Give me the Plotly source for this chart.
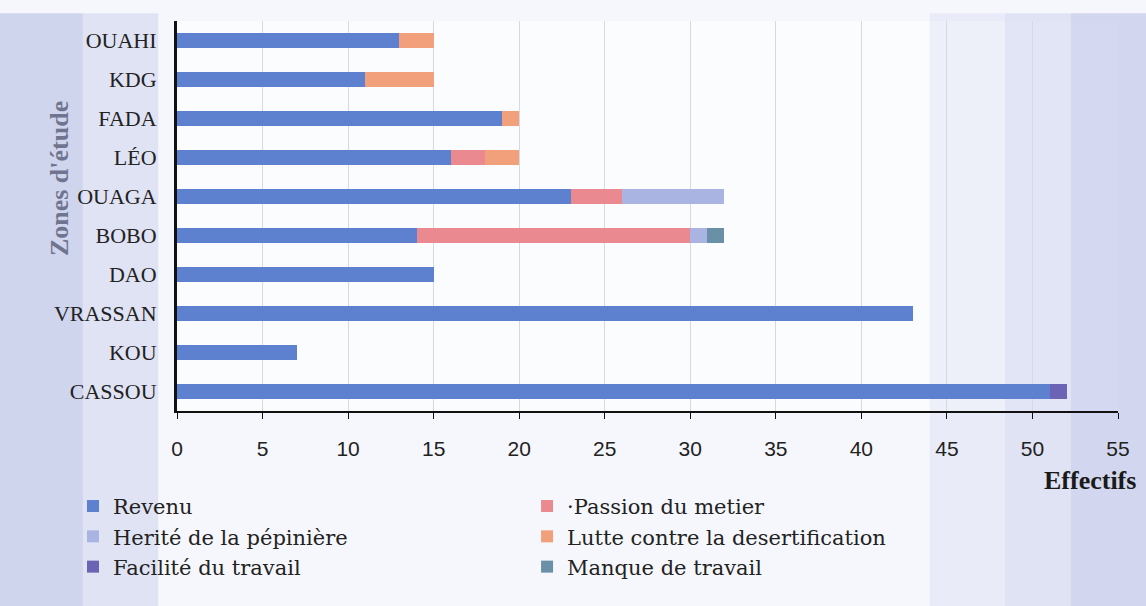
import plotly.graph_objects as go

# Zones d'étude, top to bottom as shown
zones = ["OUAHI", "KDG", "FADA", "LÉO", "OUAGA", "BOBO", "DAO", "VRASSAN", "KOU", "CASSOU"]

revenu = [13, 11, 19, 16, 23, 14, 15, 43, 7, 51]
passion = [0, 0, 0, 2, 3, 16, 0, 0, 0, 0]
herite = [0, 0, 0, 0, 6, 1, 0, 0, 0, 0]
lutte = [2, 4, 1, 2, 0, 0, 0, 0, 0, 0]
facilite = [0, 0, 0, 0, 0, 0, 0, 0, 0, 1]
manque = [0, 0, 0, 0, 0, 1, 0, 0, 0, 0]

x_ticks = list(range(0, 60, 5))

series = [
    ("Revenu", revenu, "#5d80cf", "legend"),
    ("·Passion du metier", passion, "#ea8a90", "legend2"),
    ("Herité de la pépinière", herite, "#aab4e2", "legend"),
    ("Lutte contre la desertification", lutte, "#f2a07c", "legend2"),
    ("Facilité du travail", facilite, "#6b64b5", "legend"),
    ("Manque de travail", manque, "#6a90a8", "legend2"),
]

fig = go.Figure()
for name, vals, color, leg in series:
    fig.add_trace(go.Bar(
        y=zones, x=vals, name=name, orientation="h",
        marker=dict(color=color, line=dict(width=0)),
        legend=leg,
    ))

# soft bluish tint of the scanned page on the edges
bands = [
    (-0.19, -0.10, 0.75), (-0.10, -0.02, 0.45),
    (0.80, 0.88, 0.25), (0.88, 0.95, 0.45), (0.95, 1.04, 0.7),
]
for x0, x1, op in bands:
    fig.add_shape(type="rect", xref="paper", yref="paper", x0=x0, x1=x1, y0=-0.5, y1=1.02,
                  fillcolor="#c3c9ea", opacity=op, line=dict(width=0), layer="below")

serif = "Liberation Serif"
leg_font = dict(family="DejaVu Serif", size=21, color="#222")

fig.add_annotation(text="<b>Zones d'étude</b>", textangle=-90, xref="paper", yref="paper",
                   x=-0.143, y=0.597, showarrow=False,
                   font=dict(family=serif, size=26, color="#70758f"))
fig.add_annotation(text="<b>Effectifs</b>", xref="paper", yref="paper",
                   x=1.0213, y=-0.177, xanchor="right", yanchor="middle", showarrow=False,
                   font=dict(family=serif, size=26, color="#1a1a1a"))

fig.update_layout(
    barmode="stack",
    bargap=0.64,
    width=1146, height=606,
    margin=dict(l=177, r=28, t=21, b=195),
    paper_bgcolor="#f6f7fc",
    plot_bgcolor="rgba(255,255,255,0.6)",
    xaxis=dict(
        range=[0, 55], tickvals=x_ticks, showgrid=True, gridcolor="#d6d8e2", gridwidth=1,
        showline=True, linecolor="#111", linewidth=1.5, ticks="outside", ticklen=6,
        tickcolor="#111", ticklabelstandoff=12,
        tickfont=dict(family="Liberation Sans", size=21, color="#222"), zeroline=False,
    ),
    yaxis=dict(
        categoryorder="array", categoryarray=zones[::-1],
        showline=True, linecolor="#111", linewidth=3, ticks="",
        tickfont=dict(family=serif, size=22, color="#222"), ticklabelstandoff=13,
    ),
    legend=dict(x=-0.1105, y=-0.192, xanchor="left", yanchor="top", font=leg_font,
                bgcolor="rgba(0,0,0,0)", traceorder="normal", tracegroupgap=0, itemwidth=30),
    legend2=dict(x=0.372, y=-0.192, xanchor="left", yanchor="top", font=leg_font,
                 bgcolor="rgba(0,0,0,0)", traceorder="normal", tracegroupgap=0, itemwidth=30),
)

fig.write_html("out.html", config={"displayModeBar": False},
               post_script="document.body.style.margin='0';")
